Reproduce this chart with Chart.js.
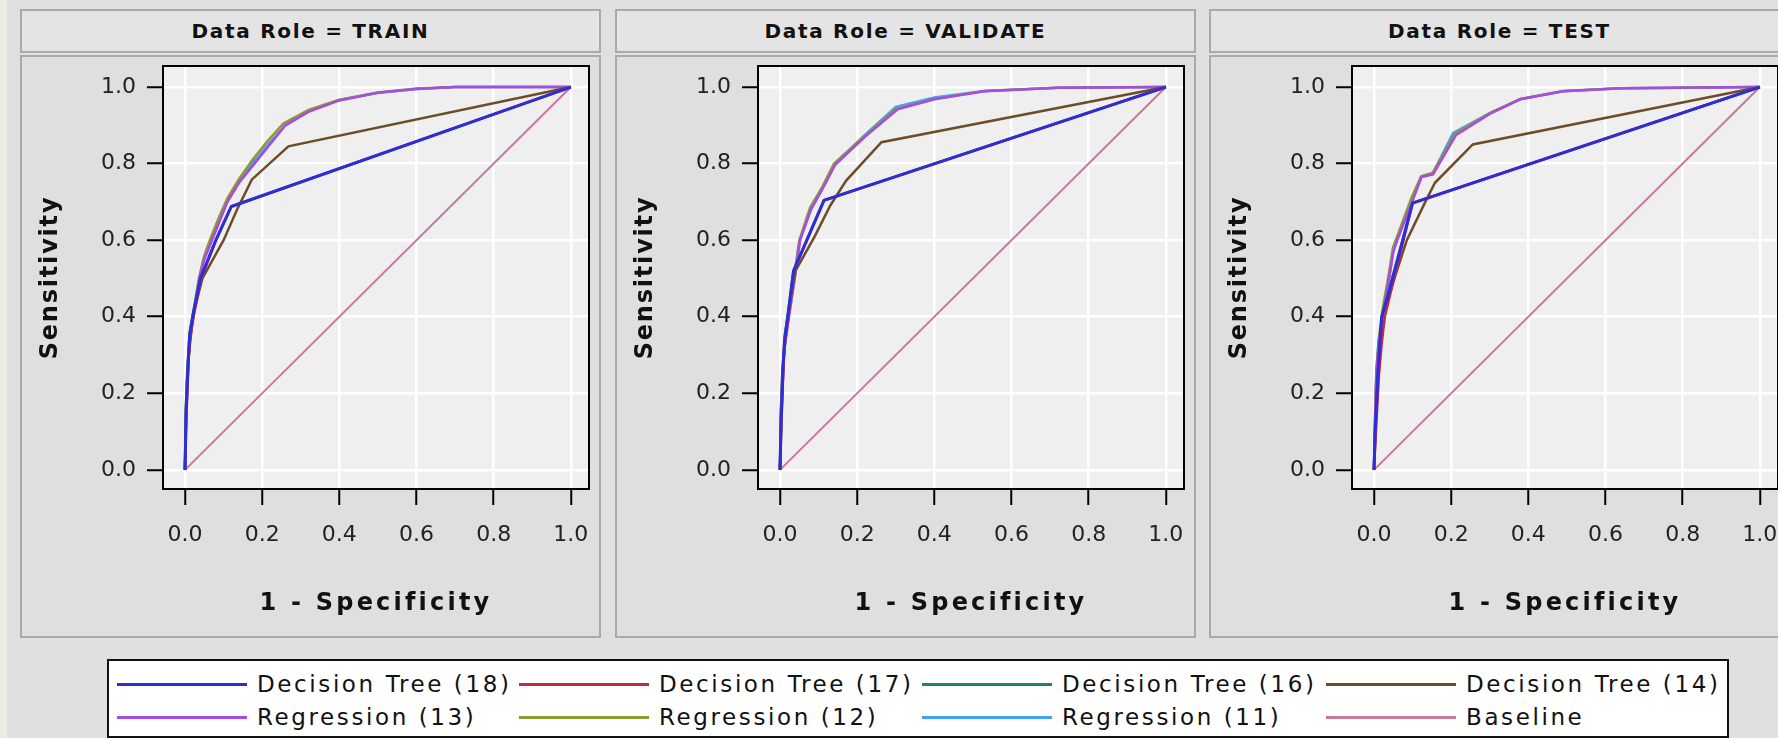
<!DOCTYPE html>
<html>
<head>
<meta charset="utf-8">
<script src="https://cdn.jsdelivr.net/npm/chart.js@4.4.1/dist/chart.umd.min.js"></script>
<style>
  html, body { margin: 0; padding: 0; }
  body { width: 1778px; height: 738px; overflow: hidden; background: #e0e0e0; position: relative; font-family: 'DejaVu Sans', sans-serif; }
  .strip { position: absolute; left: 0; top: 0; width: 7px; height: 738px; background: #eeebe4; }
  .panel { position: absolute; top: 9px; width: 581px; }
  .head { box-sizing: border-box; height: 44px; border: 2px solid #a9a9a9; background: #e4e4e4; font-weight: bold; font-size: 20px; letter-spacing: 1.7px; text-align: center; line-height: 40px; color: #111; }
  .body { box-sizing: border-box; margin-top: 2px; height: 583px; border: 2px solid #a9a9a9; background: #dfdfdf; position: relative; }
  .body canvas { position: absolute; left: 0; top: 0; }
  #legend { position: absolute; left: 107px; top: 659px; width: 1622px; height: 79px; box-sizing: border-box; border: 2px solid #111; background: #fff; }
  .item { position: absolute; display: flex; align-items: center; height: 30px; }
  .item i { display: block; width: 130px; height: 3px; margin-right: 10px; }
  .item span { font-size: 23px; letter-spacing: 2.6px; color: #111; white-space: nowrap; }
</style>
</head>
<body>
<div class="strip"></div>
<div id="panels"></div>
<div id="legend"></div>

<script>
// data roles, series names, colours
const ROLES = ['TRAIN', 'VALIDATE', 'TEST'];
const SERIES = ['Decision Tree (18)', 'Decision Tree (17)', 'Decision Tree (16)', 'Decision Tree (14)',
                'Regression (13)', 'Regression (12)', 'Regression (11)', 'Baseline'];
const COLORS = ['#2e2ed8', '#c8283c', '#23806e', '#6e4c28', '#a64ae8', '#8c9c2c', '#40a4f4', '#c9789a'];
const AXIS_TICKS = [0, 0.2, 0.4, 0.6, 0.8, 1.0];

// ROC points [1 - specificity, sensitivity]
const trainTree18 = [[0,0],[0.003,0.15],[0.008,0.28],[0.012,0.35],[0.02,0.40],[0.04,0.50],[0.08,0.60],[0.12,0.688],[1,1]];
const trainTree17 = [[0,0],[0.004,0.15],[0.009,0.28],[0.013,0.35],[0.022,0.40],[0.042,0.50],[0.08,0.60],[0.12,0.688],[1,1]];
const trainTree16 = [[0,0],[0.003,0.16],[0.008,0.29],[0.012,0.36],[0.021,0.41],[0.04,0.50],[0.08,0.60],[0.12,0.688],[1,1]];
const trainTree14 = [[0,0],[0.003,0.15],[0.01,0.30],[0.02,0.40],[0.045,0.50],[0.10,0.60],[0.135,0.68],[0.173,0.758],[0.268,0.845],[1,1]];
const trainReg13 = [[0,0],[0.002,0.15],[0.006,0.25],[0.012,0.33],[0.022,0.40],[0.037,0.50],[0.05,0.55],[0.07,0.60],[0.09,0.65],[0.11,0.70],[0.14,0.75],[0.18,0.80],[0.22,0.85],[0.26,0.90],[0.32,0.935],[0.40,0.965],[0.50,0.985],[0.60,0.995],[0.70,1.0],[1,1]];
const trainReg12 = [[0,0],[0.002,0.16],[0.006,0.26],[0.012,0.34],[0.021,0.41],[0.036,0.50],[0.05,0.56],[0.068,0.61],[0.088,0.66],[0.11,0.71],[0.14,0.76],[0.175,0.81],[0.215,0.86],[0.255,0.905],[0.32,0.94],[0.40,0.967],[0.50,0.986],[0.60,0.996],[0.70,1.0],[1,1]];
const trainReg11 = [[0,0],[0.002,0.15],[0.006,0.26],[0.012,0.33],[0.022,0.41],[0.037,0.50],[0.05,0.555],[0.07,0.605],[0.09,0.655],[0.11,0.705],[0.14,0.755],[0.178,0.805],[0.22,0.855],[0.26,0.90],[0.32,0.937],[0.40,0.966],[0.50,0.985],[0.60,0.995],[0.70,1.0],[1,1]];

const validTree18 = [[0,0],[0.003,0.13],[0.008,0.27],[0.012,0.34],[0.02,0.40],[0.035,0.52],[0.114,0.704],[1,1]];
const validTree17 = [[0,0],[0.004,0.13],[0.009,0.27],[0.013,0.34],[0.022,0.40],[0.036,0.52],[0.114,0.704],[1,1]];
const validTree16 = [[0,0],[0.003,0.14],[0.008,0.28],[0.012,0.35],[0.021,0.41],[0.035,0.52],[0.114,0.704],[1,1]];
const validTree14 = [[0,0],[0.003,0.13],[0.01,0.30],[0.02,0.40],[0.04,0.52],[0.09,0.61],[0.13,0.69],[0.171,0.755],[0.263,0.856],[1,1]];
const validReg13 = [[0,0],[0.002,0.14],[0.006,0.25],[0.012,0.32],[0.023,0.40],[0.038,0.50],[0.052,0.60],[0.08,0.68],[0.112,0.737],[0.143,0.797],[0.22,0.87],[0.305,0.942],[0.40,0.968],[0.53,0.989],[0.72,0.998],[1,1]];
const validReg12 = [[0,0],[0.002,0.15],[0.006,0.26],[0.012,0.33],[0.022,0.41],[0.037,0.51],[0.05,0.60],[0.078,0.685],[0.11,0.74],[0.14,0.80],[0.22,0.872],[0.30,0.943],[0.40,0.969],[0.53,0.99],[0.72,0.998],[1,1]];
const validReg11 = [[0,0],[0.002,0.14],[0.006,0.25],[0.012,0.32],[0.023,0.40],[0.038,0.50],[0.052,0.60],[0.08,0.68],[0.112,0.74],[0.142,0.80],[0.22,0.875],[0.30,0.948],[0.40,0.973],[0.53,0.99],[0.72,0.998],[1,1]];

const testTree18 = [[0,0],[0.003,0.10],[0.01,0.25],[0.015,0.33],[0.02,0.40],[0.035,0.45],[0.10,0.697],[1,1]];
const testTree17 = [[0,0],[0.005,0.10],[0.013,0.25],[0.02,0.33],[0.028,0.40],[0.04,0.45],[0.10,0.697],[1,1]];
const testTree16 = [[0,0],[0.004,0.11],[0.011,0.26],[0.016,0.34],[0.022,0.41],[0.036,0.46],[0.10,0.697],[1,1]];
const testTree14 = [[0,0],[0.003,0.10],[0.01,0.25],[0.02,0.40],[0.04,0.46],[0.085,0.60],[0.133,0.70],[0.158,0.75],[0.256,0.85],[1,1]];
const testReg13 = [[0,0],[0.002,0.10],[0.006,0.25],[0.012,0.33],[0.025,0.42],[0.039,0.50],[0.05,0.57],[0.06,0.60],[0.099,0.70],[0.123,0.765],[0.153,0.772],[0.212,0.874],[0.30,0.93],[0.379,0.968],[0.49,0.989],[0.64,0.997],[1,1]];
const testReg12 = [[0,0],[0.002,0.11],[0.006,0.26],[0.012,0.34],[0.024,0.43],[0.038,0.51],[0.049,0.58],[0.06,0.61],[0.097,0.71],[0.122,0.767],[0.152,0.776],[0.21,0.878],[0.30,0.932],[0.379,0.969],[0.49,0.99],[0.64,0.997],[1,1]];
const testReg11 = [[0,0],[0.002,0.10],[0.006,0.25],[0.012,0.33],[0.025,0.42],[0.039,0.50],[0.05,0.57],[0.06,0.60],[0.098,0.705],[0.123,0.765],[0.152,0.774],[0.205,0.88],[0.30,0.932],[0.379,0.968],[0.49,0.989],[0.64,0.997],[1,1]];

const baseline = [[0,0],[1,1]];

const curves = {
  TRAIN: [trainTree18, trainTree17, trainTree16, trainTree14, trainReg13, trainReg12, trainReg11, baseline],
  VALIDATE: [validTree18, validTree17, validTree16, validTree14, validReg13, validReg12, validReg11, baseline],
  TEST: [testTree18, testTree17, testTree16, testTree14, testReg13, testReg12, testReg11, baseline]
};

Chart.defaults.font.family = "'DejaVu Sans', sans-serif";

// grey plot area + black frame
const plotFrame = {
  id: 'plotFrame',
  beforeDraw(chart) {
    const { ctx, chartArea: a } = chart;
    ctx.save();
    ctx.fillStyle = '#efefef';
    ctx.fillRect(a.left, a.top, a.width, a.height);
    ctx.restore();
  },
  afterDraw(chart) {
    const { ctx, chartArea: a } = chart;
    ctx.save();
    ctx.strokeStyle = '#000';
    ctx.lineWidth = 2;
    ctx.strokeRect(a.left, a.top, a.width, a.height);
    ctx.restore();
  }
};

// the axis titles in the picture are spaced out
const titleSpacing = {
  id: 'titleSpacing',
  beforeDraw(chart) {
    Object.values(chart.scales).forEach(scale => {
      if (scale.spaced) return;
      const drawTitle = scale.drawTitle;
      const gap = scale.axis === 'x' ? '3.2px' : '1.8px';
      scale.drawTitle = function () {
        this.ctx.save();
        this.ctx.letterSpacing = gap;
        drawTitle.call(this);
        this.ctx.restore();
      };
      scale.spaced = true;
    });
  }
};

function axis(title, isX) {
  return {
    type: 'linear',
    min: isX ? -0.057 : -0.05,
    max: isX ? 1.047 : 1.055,
    afterBuildTicks: s => { s.ticks = AXIS_TICKS.map(v => ({ value: v })); },
    afterFit: s => {
      if (isX) s.height = 147; else s.width = 141;
      // labels sit inside the padded range, no extra room needed
      s.paddingTop = 0; s.paddingBottom = 0; s.paddingLeft = 0; s.paddingRight = 0;
    },
    grid: { color: '#ffffff', lineWidth: 2.5, tickColor: '#000', tickWidth: 2, tickLength: 16 },
    border: { display: false },
    ticks: {
      padding: isX ? 17 : 11,
      color: '#222',
      font: { size: 22 },
      maxRotation: 0,
      autoSkip: false,
      callback: v => v.toFixed(1)
    },
    title: {
      display: true,
      text: title,
      color: '#111',
      font: { size: 24, weight: 'bold' },
      padding: isX ? { top: 0, bottom: 18 } : { top: 14, bottom: 0 }
    }
  };
}

const panelLefts = [20, 615, 1209];
const panels = document.getElementById('panels');

ROLES.forEach((role, r) => {
  const panel = document.createElement('div');
  panel.className = 'panel';
  panel.style.left = panelLefts[r] + 'px';
  panel.innerHTML = '<div class="head">Data Role = ' + role + '</div><div class="body"><canvas width="577" height="579"></canvas></div>';
  panels.appendChild(panel);

  const datasets = SERIES.map((name, i) => ({
    label: name,
    data: curves[role][i].map(p => ({ x: p[0], y: p[1] })),
    showLine: true,
    borderColor: COLORS[i],
    backgroundColor: COLORS[i],
    borderWidth: i === 0 ? 3 : (i === 7 ? 2 : 2.5),
    pointRadius: 0,
    tension: 0
  }));

  new Chart(panel.querySelector('canvas'), {
    type: 'scatter',
    data: { datasets },
    options: {
      responsive: false,
      animation: false,
      layout: { padding: { left: 0, top: 9, right: 10, bottom: 0 } },
      plugins: { legend: { display: false }, tooltip: { enabled: false } },
      scales: {
        x: axis('1 - Specificity', true),
        y: axis('Sensitivity', false)
      }
    },
    plugins: [plotFrame, titleSpacing]
  });
});

// shared legend, 4 columns x 2 rows
const legend = document.getElementById('legend');
const colX = [8, 410, 813, 1217];
const rowY = [8, 41];
SERIES.forEach((name, i) => {
  const item = document.createElement('div');
  item.className = 'item';
  item.style.left = colX[i % 4] + 'px';
  item.style.top = rowY[Math.floor(i / 4)] + 'px';
  item.innerHTML = '<i style="background:' + COLORS[i] + '"></i><span>' + name + '</span>';
  legend.appendChild(item);
});
</script>
</body>
</html>
